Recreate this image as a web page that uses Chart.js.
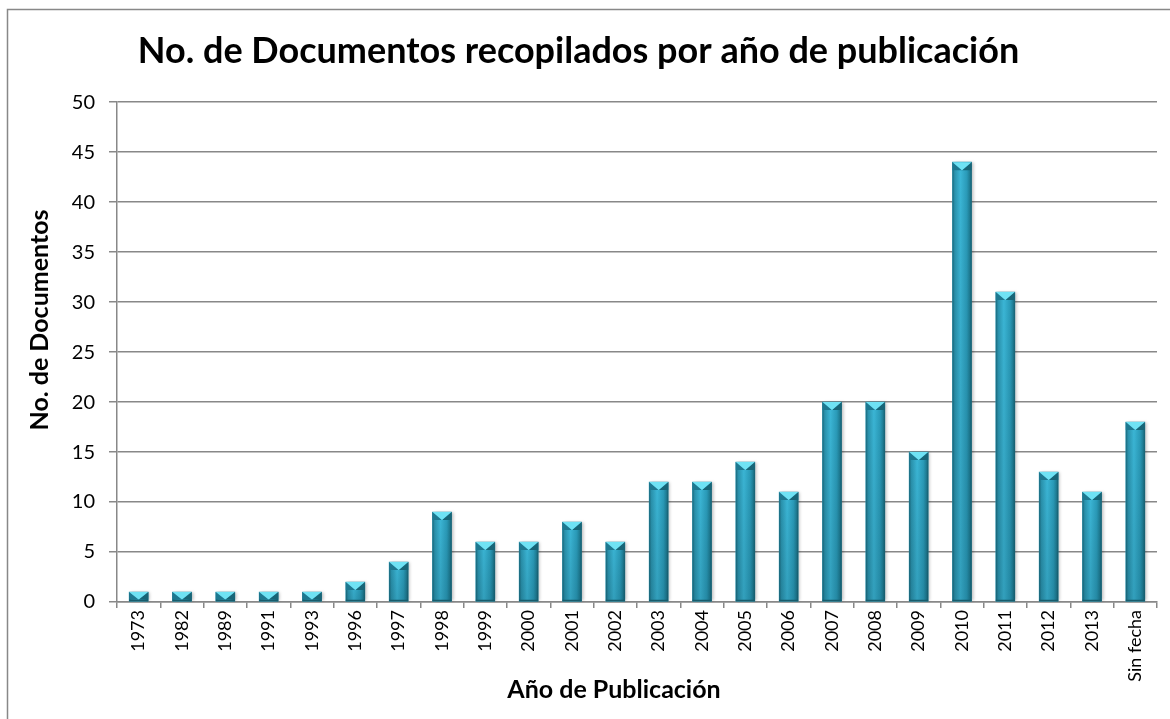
<!DOCTYPE html>
<html>
<head>
<meta charset="utf-8">
<script src="https://cdn.jsdelivr.net/npm/chart.js@4"></script>
<style>
  html, body { margin: 0; padding: 0; background: #fff; }
  #wrap { width: 1170px; height: 719px; }
</style>
</head>
<body>
<div id="wrap"><canvas id="grafico" width="1170" height="719"></canvas></div>
<script>
const anos = ['1973', '1982', '1989', '1991', '1993', '1996', '1997', '1998', '1999', '2000',
  '2001', '2002', '2003', '2004', '2005', '2006', '2007', '2008', '2009', '2010',
  '2011', '2012', '2013', 'Sin fecha'];
const documentos = [1, 1, 1, 1, 1, 2, 4, 9, 6, 6, 8, 6, 12, 12, 14, 11, 20, 20, 15, 44, 31, 13, 11, 18];
const titulo = 'No. de Documentos recopilados por año de publicación';
const tituloX = 'Año de Publicación';
const tituloY = 'No. de Documentos';

const gris = '#888888';

// marco del gráfico (solo bordes izquierdo y superior visibles)
const marco = {
  id: 'marco',
  beforeDraw(chart) {
    const c = chart.ctx;
    c.save();
    c.fillStyle = '#fff';
    c.fillRect(0, 0, chart.width, chart.height);
    c.strokeStyle = gris;
    c.lineWidth = 1.5;
    c.beginPath();
    c.moveTo(7.5, chart.height);
    c.lineTo(7.5, 9.5);
    c.lineTo(chart.width, 9.5);
    c.stroke();
    c.restore();
  }
};

// títulos de ejes, colocados como en el original (no centrados en el área)
const titulosEjes = {
  id: 'titulosEjes',
  afterDraw(chart) {
    const c = chart.ctx;
    c.save();
    c.fillStyle = '#000';
    c.font = 'bold 25px Lato';
    c.textAlign = 'center';
    c.textBaseline = 'middle';
    c.fillText(tituloX, 614, 690);
    c.translate(40, 320);
    c.rotate(-Math.PI / 2);
    c.fillText(tituloY, 0, 0);
    c.restore();
  }
};

// efecto cilindro / pirámide en cada barra
const barras3d = {
  id: 'barras3d',
  afterDatasetsDraw(chart) {
    const c = chart.ctx;
    chart.getDatasetMeta(0).data.forEach(el => {
      const w = el.width;
      const x0 = el.x - w / 2, x1 = el.x + w / 2;
      const top = el.y, base = el.base;
      const g = c.createLinearGradient(x0, 0, x1, 0);
      g.addColorStop(0, '#1a6a7e');
      g.addColorStop(0.12, '#2a93ae');
      g.addColorStop(0.42, '#3bb6d6');
      g.addColorStop(0.75, '#2a9bb9');
      g.addColorStop(0.9, '#1f7f97');
      g.addColorStop(1, '#175f70');
      c.save();
      c.shadowColor = 'rgba(0,0,0,0.25)';
      c.shadowOffsetX = 2;
      c.shadowBlur = 3;
      c.fillStyle = g;
      c.fillRect(x0, top, w, base - top);
      c.restore();
      // sombreado inferior
      const gv = c.createLinearGradient(0, top, 0, base);
      gv.addColorStop(0, 'rgba(0,0,0,0)');
      gv.addColorStop(1, 'rgba(0,30,40,0.15)');
      c.fillStyle = gv;
      c.fillRect(x0, top, w, base - top);
      // tapa superior
      const h = Math.min(8, (base - top) * 0.8);
      c.fillStyle = '#1d7890';
      c.beginPath();
      c.moveTo(x0, top); c.lineTo(el.x, top + h); c.lineTo(x0, top + h); c.closePath();
      c.fill();
      c.fillStyle = '#176577';
      c.beginPath();
      c.moveTo(x1, top); c.lineTo(el.x, top + h); c.lineTo(x1, top + h); c.closePath();
      c.fill();
      c.fillStyle = '#6fe2f4';
      c.beginPath();
      c.moveTo(x0, top); c.lineTo(x1, top); c.lineTo(el.x, top + h); c.closePath();
      c.fill();
      c.fillStyle = '#175c6c';
      c.fillRect(x0, base - 1.5, w, 1.5);
    });
  }
};

const ctx = document.getElementById('grafico').getContext('2d');
new Chart(ctx, {
  type: 'bar',
  data: {
    labels: anos,
    datasets: [{
      label: tituloY,
      data: documentos,
      backgroundColor: '#2a9bb9',
      borderWidth: 0,
      barThickness: 19
    }]
  },
  options: {
    responsive: false,
    animation: false,
    layout: { padding: { left: 0, top: 0, right: 13, bottom: 0 } },
    plugins: {
      legend: { display: false },
      tooltip: { enabled: false },
      title: {
        display: true,
        text: titulo,
        color: '#000',
        font: { family: 'Lato', size: 36, weight: 'bold' },
        padding: { top: 30, bottom: 29 }
      }
    },
    scales: {
      x: {
        afterFit(scale) { scale.height = 117; },
        grid: { offset: true, drawOnChartArea: false, tickLength: 6, color: gris, lineWidth: 1.5 },
        border: { color: gris, width: 1.5 },
        ticks: {
          color: '#000',
          maxRotation: 90, minRotation: 90,
          padding: 2,
          font: { family: 'Lato', size: 18 }
        }
      },
      y: {
        min: 0, max: 50,
        afterFit(scale) { scale.width = 117; },
        grid: { color: gris, lineWidth: 1.5, tickLength: 8 },
        border: { color: gris, width: 1.5 },
        ticks: {
          stepSize: 5,
          color: '#000',
          padding: 14,
          font: { family: 'Lato', size: 20 }
        }
      }
    }
  },
  plugins: [marco, barras3d, titulosEjes]
});
</script>
</body>
</html>
